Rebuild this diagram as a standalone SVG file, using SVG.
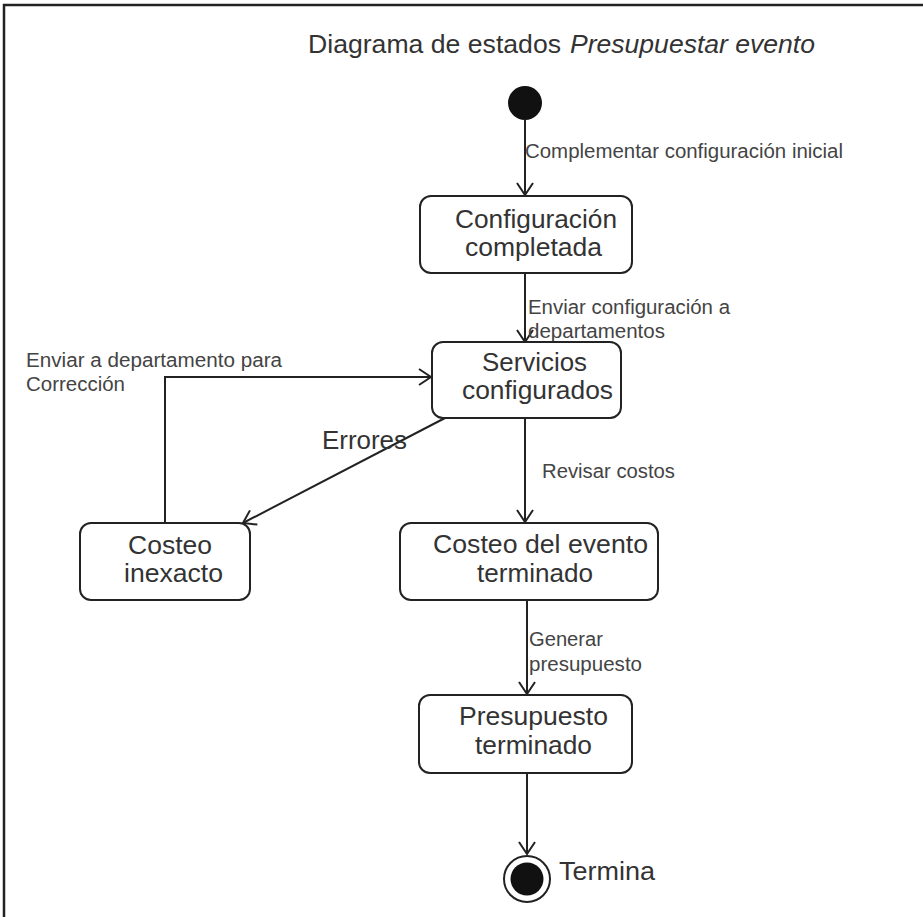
<svg xmlns="http://www.w3.org/2000/svg" width="923" height="917" viewBox="0 0 923 917">
  <style>
    .frame { fill: none; stroke: #222; stroke-width: 2.5; }
    .state rect { fill: #fff; stroke: #222; stroke-width: 2; }
    .state text { font-family: "Liberation Sans", Arial, sans-serif; font-size: 26px; fill: #333; }
    .edge { fill: none; stroke: #222; stroke-width: 2; marker-end: url(#open); }
    .lbl { font-family: "Liberation Sans", Arial, sans-serif; font-size: 20px; fill: #444; }
    .big { font-size: 25px; fill: #333; }
    .title { font-family: "Liberation Sans", Arial, sans-serif; font-size: 26px; fill: #333; }
  </style>
  <defs>
    <marker id="open" viewBox="0 0 14 18" refX="13" refY="9" markerWidth="14" markerHeight="18" markerUnits="userSpaceOnUse" orient="auto">
      <path d="M1,1 L13,9 L1,17" fill="none" stroke="#222" stroke-width="2"/>
    </marker>
  </defs>
  <rect width="923" height="917" fill="#fff"/>
  <!-- outer frame: top and left edges only -->
  <path class="frame" d="M4,917 V5 H923"/>
  <text class="title" x="308" y="53" textLength="253" lengthAdjust="spacingAndGlyphs">Diagrama de estados</text>
  <text class="title" x="570" y="53" textLength="245" lengthAdjust="spacingAndGlyphs" font-style="italic">Presupuestar evento</text>

  <g id="connectors">
    <path class="edge" d="M525,120 V195"/>
    <path class="edge" d="M525,273 V342"/>
    <path class="edge" d="M525,418 V522"/>
    <path class="edge" d="M445,418 L243,523"/>
    <path class="edge" d="M165,523 V377 H431"/>
    <path class="edge" d="M527,600 V694"/>
    <path class="edge" d="M527,773 V854"/>
    <text class="lbl" x="525" y="158" textLength="318" lengthAdjust="spacingAndGlyphs">Complementar configuración inicial</text>
    <text class="lbl" x="528" y="314" textLength="202" lengthAdjust="spacingAndGlyphs">Enviar configuración a</text>
    <text class="lbl" x="528" y="338" textLength="137" lengthAdjust="spacingAndGlyphs">departamentos</text>
    <text class="lbl" x="26" y="367" textLength="256" lengthAdjust="spacingAndGlyphs">Enviar a departamento para</text>
    <text class="lbl" x="26" y="391" textLength="99" lengthAdjust="spacingAndGlyphs">Corrección</text>
    <text class="lbl big" x="322" y="449" textLength="85" lengthAdjust="spacingAndGlyphs">Errores</text>
    <text class="lbl" x="542" y="478" textLength="133" lengthAdjust="spacingAndGlyphs">Revisar costos</text>
    <text class="lbl" x="529" y="646" textLength="74" lengthAdjust="spacingAndGlyphs">Generar</text>
    <text class="lbl" x="529" y="671" textLength="113" lengthAdjust="spacingAndGlyphs">presupuesto</text>
  </g>

  <g id="initial">
    <circle cx="525" cy="103" r="17" fill="#111"/>
  </g>

  <g id="configuracion-completada" class="state">
    <rect x="420" y="196" width="212" height="77" rx="11"/>
    <text x="455" y="228" textLength="162" lengthAdjust="spacingAndGlyphs">Configuración</text>
    <text x="465" y="256" textLength="137" lengthAdjust="spacingAndGlyphs">completada</text>
  </g>

  <g id="servicios-configurados" class="state">
    <rect x="432" y="342" width="189" height="76" rx="11"/>
    <text x="482" y="371" textLength="105" lengthAdjust="spacingAndGlyphs">Servicios</text>
    <text x="462" y="399" textLength="151" lengthAdjust="spacingAndGlyphs">configurados</text>
  </g>

  <g id="costeo-inexacto" class="state">
    <rect x="80" y="523" width="170" height="77" rx="11"/>
    <text x="128" y="554" textLength="84" lengthAdjust="spacingAndGlyphs">Costeo</text>
    <text x="124" y="582" textLength="99" lengthAdjust="spacingAndGlyphs">inexacto</text>
  </g>

  <g id="costeo-terminado" class="state">
    <rect x="400" y="523" width="258" height="77" rx="11"/>
    <text x="433" y="553" textLength="215" lengthAdjust="spacingAndGlyphs">Costeo del evento</text>
    <text x="477" y="582" textLength="116" lengthAdjust="spacingAndGlyphs">terminado</text>
  </g>

  <g id="presupuesto-terminado" class="state">
    <rect x="419" y="695" width="213" height="78" rx="11"/>
    <text x="459" y="725" textLength="149" lengthAdjust="spacingAndGlyphs">Presupuesto</text>
    <text x="475" y="754" textLength="117" lengthAdjust="spacingAndGlyphs">terminado</text>
  </g>

  <g id="final">
    <circle cx="527" cy="879" r="23" fill="#fff" stroke="#222" stroke-width="2"/>
    <circle cx="527" cy="879" r="16.5" fill="#111"/>
    <text class="lbl big" x="559" y="880" textLength="96" lengthAdjust="spacingAndGlyphs">Termina</text>
  </g>
</svg>
